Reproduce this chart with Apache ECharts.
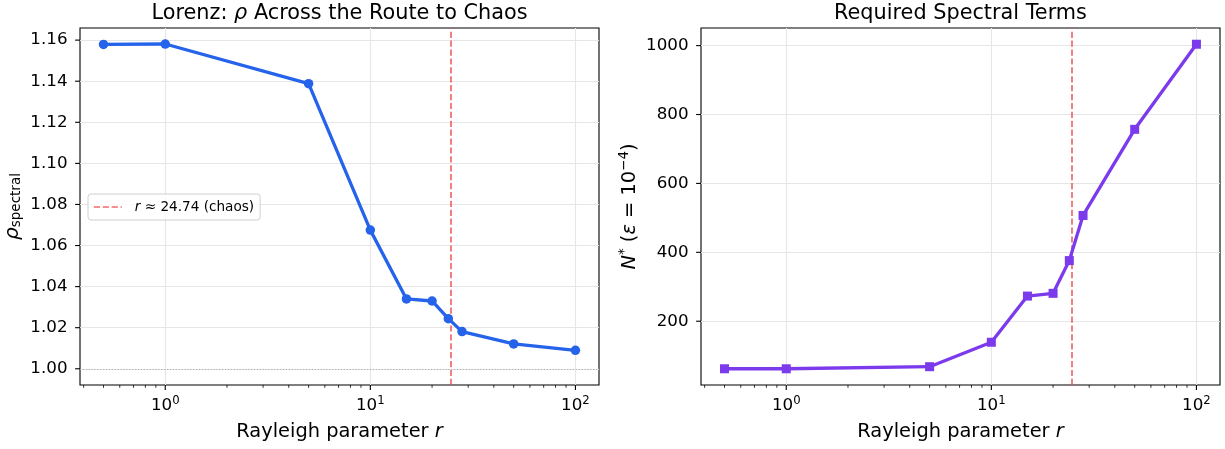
<!DOCTYPE html>
<html><head><meta charset="utf-8">
<script src="https://cdn.jsdelivr.net/npm/echarts@6/dist/echarts.min.js"></script>
<style>html,body{margin:0;padding:0;background:#fff}#c{width:1225px;height:449px}</style>
</head><body><div id="c"></div>
<script>
// ---- data ----
const rValues = [0.5, 1, 5, 10, 15, 20, 24, 28, 50, 100];
const rhoValues = [1.1579, 1.1581, 1.1388, 1.0675, 1.0340, 1.0330, 1.0244, 1.0181, 1.0121, 1.0090];
const nStarValues = [62, 62, 68, 139, 273, 281, 376, 507, 757, 1004];
const chaosR = 24.74;
const rhoTicks = [1.00, 1.02, 1.04, 1.06, 1.08, 1.10, 1.12, 1.14, 1.16];
const nTicks = [200, 400, 600, 800, 1000];
const xMajorTicks = [1, 10, 100];
const xMinorTicks = [0.4, 0.5, 0.6, 0.7, 0.8, 0.9, 2, 3, 4, 5, 6, 7, 8, 9, 20, 30, 40, 50, 60, 70, 80, 90];
const legendName = 'r ≈ 24.74 (chaos)';
const titles = ['Lorenz: {i|ρ} Across the Route to Chaos', 'Required Spectral Terms'];

// ---- style ----
const FF = 'DejaVu Sans';
const BLUE = '#2563eb', PURPLE = '#7c3aed', RED = 'rgba(239,68,68,0.8)';
const X_MIN = 0.384, X_MAX = 130.3;
const RHO_MIN = 0.9921, RHO_MAX = 1.1659;
const N_MIN = 14.9, N_MAX = 1051.1;
const GRID_COLOR = '#e6e6e6';
const TICK_FS = 16.7, LABEL_FS = 19.4, TITLE_FS = 20.8, LEG_FS = 13.9;
const DASH = [6.2, 2.7];

function near(v, arr, eps) { return arr.some(a => Math.abs(a - v) < eps); }

function xAxisDef(idx) {
  return {
    type: 'log', logBase: 10, gridIndex: idx, min: X_MIN, max: X_MAX,
    name: 'Rayleigh parameter {i|r}', nameLocation: 'middle', nameGap: 35,
    nameTextStyle: { fontFamily: FF, fontSize: LABEL_FS, color: '#000', lineHeight: 24,
      rich: { i: { fontStyle: 'italic', fontFamily: FF, fontSize: LABEL_FS, lineHeight: 24 } } },
    axisLine: { show: false }, axisTick: { show: false },
    axisLabel: {
      margin: 9.5, showMinLabel: false, showMaxLabel: false,
      formatter: function (v) {
        const e = Math.log10(v), k = Math.round(e);
        if (Math.abs(e - k) < 1e-6 && near(v, xMajorTicks, 1e-6 * v)) return '{b|10}{sup|' + k + '}';
        return '';
      },
      rich: {
        b: { fontFamily: FF, fontSize: TICK_FS, lineHeight: 20, verticalAlign: 'bottom', color: '#000' },
        sup: { fontFamily: FF, fontSize: 11.7, lineHeight: 12, verticalAlign: 'top', color: '#000' }
      }
    },
    splitLine: { show: true, showMinLine: false, showMaxLine: false, lineStyle: { color: GRID_COLOR, width: 1.1 } }
  };
}

function xTickItem(params, api) {
  const cs = params.coordSys;
  const x = api.coord([api.value(0), api.value(1)])[0];
  const yb = cs.y + cs.height;
  const major = api.value(2) === 1;
  return { type: 'line', shape: { x1: x, y1: yb, x2: x, y2: yb + (major ? 4.9 : 2.8) },
    style: { stroke: '#000', lineWidth: major ? 1.1 : 0.8 } };
}
function yTickItem(params, api) {
  const cs = params.coordSys;
  const y = api.coord([api.value(0), api.value(1)])[1];
  return { type: 'line', shape: { x1: cs.x, y1: y, x2: cs.x - 4.9, y2: y },
    style: { stroke: '#000', lineWidth: 1.1 } };
}

const chart = echarts.init(document.getElementById('c'), null, { renderer: 'canvas' });
chart.setOption({
  animation: false,
  backgroundColor: '#fff',
  graphic: [
    { type: 'text', x: 339.5, y: 14, style: { text: titles[0], fontFamily: FF, fontSize: TITLE_FS, fill: '#000',
      align: 'center', verticalAlign: 'middle',
      rich: { i: { fontStyle: 'italic', fontFamily: FF, fontSize: TITLE_FS, fill: '#000' } } } },
    { type: 'text', x: 960.5, y: 14, style: { text: titles[1], fontFamily: FF, fontSize: TITLE_FS, fill: '#000',
      align: 'center', verticalAlign: 'middle' } }
  ],
  legend: {
    data: [legendName], left: 88, top: 194, orient: 'vertical',
    padding: [6, 6, 6, 5], itemWidth: 28, itemHeight: 14,
    backgroundColor: 'rgba(255,255,255,0.8)', borderColor: '#d0d0d0', borderWidth: 1, borderRadius: 3,
    selectedMode: false,
    itemStyle: { opacity: 0, borderWidth: 0 },
    lineStyle: { type: DASH, width: 1.7, color: RED },
    formatter: function () { return '{i|r} ≈ 24.74 (chaos)'; },
    textStyle: { fontFamily: FF, fontSize: 13.6, color: '#000', padding: [0, 0, 0, 8],
      rich: { i: { fontStyle: 'italic', fontFamily: FF, fontSize: 13.6, color: '#000' } } }
  },
  grid: [
    { left: 80, top: 28, width: 519, height: 358, show: true, borderColor: '#000', borderWidth: 1.1, backgroundColor: 'transparent' },
    { left: 701, top: 28, width: 519, height: 358, show: true, borderColor: '#000', borderWidth: 1.1, backgroundColor: 'transparent' }
  ],
  xAxis: [xAxisDef(0), xAxisDef(1)],
  yAxis: [
    {
      type: 'value', gridIndex: 0, min: RHO_MIN, max: RHO_MAX, splitNumber: 8,
      name: '{i|ρ}{sub|spectral}', nameLocation: 'middle', nameGap: 57,
      nameTextStyle: { fontFamily: FF, color: '#000',
        rich: {
          i: { fontStyle: 'italic', fontFamily: FF, fontSize: 20, lineHeight: 20, verticalAlign: 'top', color: '#000' },
          sub: { fontFamily: FF, fontSize: 13.5, lineHeight: 14, verticalAlign: 'bottom', padding: [8, 0, 0, 0], color: '#000' }
        } },
      axisLine: { show: false }, axisTick: { show: false },
      axisLabel: { margin: 12.5, fontFamily: FF, fontSize: TICK_FS, color: '#000', showMinLabel: false, showMaxLabel: false,
        formatter: v => near(v, rhoTicks, 1e-6) ? v.toFixed(2) : '' },
      splitLine: { show: true, showMinLine: false, showMaxLine: false, lineStyle: { color: GRID_COLOR, width: 1.1 } }
    },
    {
      type: 'value', gridIndex: 1, min: N_MIN, max: N_MAX, splitNumber: 5,
      name: '{i|N}{sup|*}{b| (}{i|ε}{b| = 10}{sup|−4}{b|)}', nameLocation: 'middle', nameGap: 62,
      nameTextStyle: { fontFamily: FF, color: '#000',
        rich: {
          i: { fontStyle: 'italic', fontFamily: FF, fontSize: LABEL_FS, lineHeight: 22, verticalAlign: 'bottom', color: '#000' },
          b: { fontFamily: FF, fontSize: LABEL_FS, lineHeight: 22, verticalAlign: 'bottom', color: '#000' },
          sup: { fontFamily: FF, fontSize: 13.5, lineHeight: 14, verticalAlign: 'top', color: '#000' }
        } },
      axisLine: { show: false }, axisTick: { show: false },
      axisLabel: { margin: 12.5, fontFamily: FF, fontSize: TICK_FS, color: '#000', showMinLabel: false, showMaxLabel: false,
        formatter: v => near(v, nTicks, 1e-6) ? String(Math.round(v)) : '' },
      splitLine: { show: true, showMinLine: false, showMaxLine: false, lineStyle: { color: GRID_COLOR, width: 1.1 } }
    }
  ],
  series: [
    {
      name: legendName, type: 'line', xAxisIndex: 0, yAxisIndex: 0, data: [], symbol: 'none',
      lineStyle: { color: RED, width: 1.7, type: DASH }, itemStyle: { color: RED, opacity: 0 },
      markLine: { silent: true, symbol: 'none', label: { show: false }, animation: false,
        lineStyle: { color: RED, width: 1.7, type: DASH }, data: [{ xAxis: chaosR }] },
      z: 3
    },
    {
      name: 'rho', type: 'line', xAxisIndex: 0, yAxisIndex: 0,
      data: rValues.map((r, i) => [r, rhoValues[i]]),
      symbol: 'circle', symbolSize: 9.5, showSymbol: true,
      lineStyle: { color: BLUE, width: 3.3 }, itemStyle: { color: BLUE },
      markLine: { silent: true, symbol: 'none', label: { show: false }, animation: false,
        lineStyle: { color: 'rgba(128,128,128,0.6)', width: 1.1, type: [1.1, 1.8] }, data: [{ yAxis: 1.0 }] },
      z: 5
    },
    {
      name: 'vline2', type: 'line', xAxisIndex: 1, yAxisIndex: 1, data: [], symbol: 'none',
      markLine: { silent: true, symbol: 'none', label: { show: false }, animation: false,
        lineStyle: { color: RED, width: 1.7, type: DASH }, data: [{ xAxis: chaosR }] },
      z: 3
    },
    {
      name: 'nstar', type: 'line', xAxisIndex: 1, yAxisIndex: 1,
      data: rValues.map((r, i) => [r, nStarValues[i]]),
      symbol: 'rect', symbolSize: 9, showSymbol: true,
      lineStyle: { color: PURPLE, width: 3.3 }, itemStyle: { color: PURPLE },
      z: 5
    },
    { name: 'xt0', type: 'custom', xAxisIndex: 0, yAxisIndex: 0, clip: false, silent: true, z: 10,
      renderItem: xTickItem,
      data: xMajorTicks.map(v => [v, 1.05, 1]).concat(xMinorTicks.map(v => [v, 1.05, 0])) },
    { name: 'yt0', type: 'custom', xAxisIndex: 0, yAxisIndex: 0, clip: false, silent: true, z: 10,
      renderItem: yTickItem, data: rhoTicks.map(v => [1, v]) },
    { name: 'xt1', type: 'custom', xAxisIndex: 1, yAxisIndex: 1, clip: false, silent: true, z: 10,
      renderItem: xTickItem,
      data: xMajorTicks.map(v => [v, 500, 1]).concat(xMinorTicks.map(v => [v, 500, 0])) },
    { name: 'yt1', type: 'custom', xAxisIndex: 1, yAxisIndex: 1, clip: false, silent: true, z: 10,
      renderItem: yTickItem, data: nTicks.map(v => [1, v]) }
  ]
});
</script>
</body></html>
